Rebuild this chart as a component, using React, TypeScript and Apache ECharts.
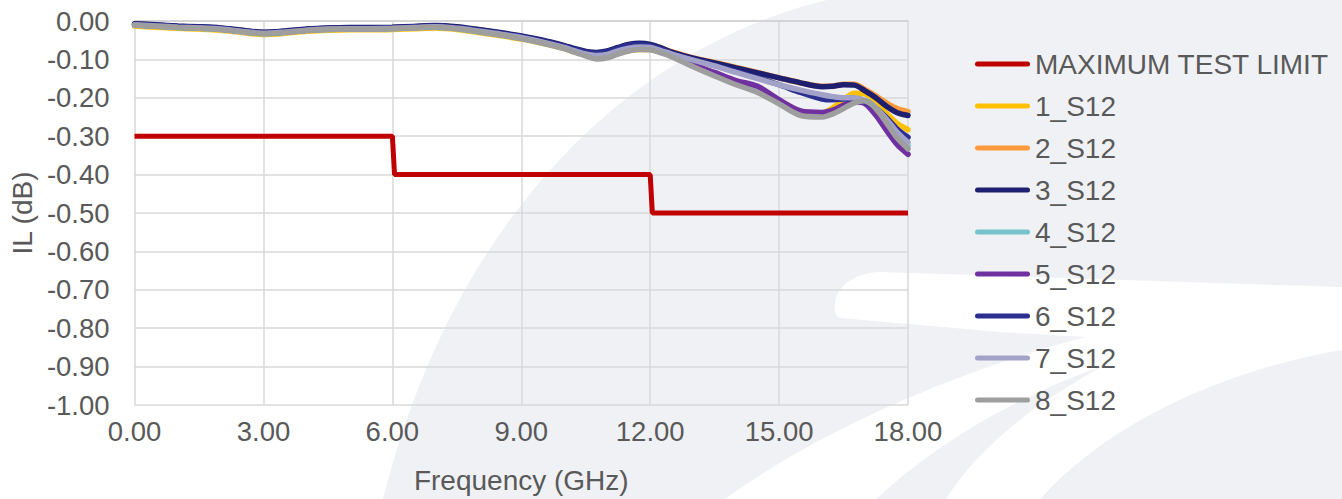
import React, { useEffect, useRef } from "react";
import * as echarts from "echarts";

const FONT = '"Liberation Sans", Arial, sans-serif';
const TEXT_COLOR = "#595959";

const FREQ = [
  0, 0.5, 1, 1.5, 2, 2.5, 3, 3.5, 4, 4.5, 5, 5.5, 6, 6.5, 7, 7.5, 8, 8.5, 9, 9.5,
  10, 10.25, 10.5, 10.75, 11, 11.25, 11.5, 11.75, 12, 12.25, 12.5,
  13, 13.5, 14, 14.5, 15, 15.5, 16,
  16.25, 16.5, 16.75, 17, 17.25, 17.5, 17.75, 18,
];

const LIMIT_FREQ = [0, 6, 6.05, 12, 12.05, 18];
const LIMIT_IL = [-0.3, -0.3, -0.4, -0.4, -0.5, -0.5];

const S1 = [
  -0.013, -0.016, -0.019, -0.021, -0.024, -0.030, -0.035, -0.032, -0.027, -0.024, -0.023, -0.023, -0.022, -0.020, -0.018, -0.022, -0.030, -0.038, -0.047, -0.058,
  -0.072, -0.081, -0.089, -0.096, -0.093, -0.084, -0.077, -0.074, -0.074, -0.082, -0.091,
  -0.116, -0.141, -0.163, -0.183, -0.213, -0.241, -0.240,
  -0.226, -0.205, -0.188, -0.190, -0.210, -0.240, -0.267, -0.283,
];
const S2 = [
  -0.008, -0.011, -0.014, -0.016, -0.019, -0.025, -0.030, -0.027, -0.022, -0.019, -0.018, -0.018, -0.017, -0.015, -0.013, -0.016, -0.023, -0.031, -0.040, -0.051,
  -0.065, -0.073, -0.080, -0.083, -0.079, -0.070, -0.062, -0.059, -0.062, -0.070, -0.080,
  -0.096, -0.108, -0.121, -0.134, -0.148, -0.161, -0.170,
  -0.169, -0.165, -0.165, -0.178, -0.195, -0.213, -0.228, -0.236,
];
const S3 = [
  -0.007, -0.010, -0.013, -0.015, -0.018, -0.024, -0.029, -0.026, -0.021, -0.018, -0.017, -0.017, -0.016, -0.014, -0.012, -0.015, -0.022, -0.030, -0.039, -0.050,
  -0.064, -0.072, -0.079, -0.082, -0.078, -0.069, -0.061, -0.058, -0.061, -0.070, -0.081,
  -0.097, -0.109, -0.122, -0.135, -0.148, -0.161, -0.171,
  -0.170, -0.166, -0.167, -0.182, -0.200, -0.222, -0.239, -0.246,
];
const S4 = [
  -0.011, -0.014, -0.017, -0.019, -0.022, -0.028, -0.033, -0.030, -0.025, -0.022, -0.021, -0.021, -0.020, -0.018, -0.016, -0.020, -0.028, -0.036, -0.045, -0.057,
  -0.071, -0.080, -0.088, -0.094, -0.091, -0.082, -0.075, -0.072, -0.073, -0.081, -0.090,
  -0.116, -0.140, -0.163, -0.180, -0.210, -0.238, -0.242,
  -0.235, -0.222, -0.208, -0.207, -0.226, -0.262, -0.300, -0.325,
];
const S5 = [
  -0.010, -0.013, -0.016, -0.018, -0.021, -0.027, -0.032, -0.029, -0.024, -0.021, -0.020, -0.020, -0.019, -0.017, -0.015, -0.019, -0.027, -0.035, -0.044, -0.056,
  -0.070, -0.079, -0.087, -0.092, -0.089, -0.080, -0.073, -0.070, -0.071, -0.079, -0.090,
  -0.114, -0.134, -0.155, -0.170, -0.205, -0.234, -0.238,
  -0.232, -0.219, -0.210, -0.215, -0.245, -0.285, -0.322, -0.347,
];
const S6 = [
  -0.008, -0.011, -0.014, -0.016, -0.019, -0.025, -0.030, -0.027, -0.022, -0.019, -0.018, -0.018, -0.017, -0.015, -0.013, -0.017, -0.024, -0.032, -0.041, -0.052,
  -0.066, -0.074, -0.081, -0.084, -0.080, -0.071, -0.063, -0.061, -0.064, -0.073, -0.084,
  -0.101, -0.116, -0.132, -0.148, -0.166, -0.186, -0.203,
  -0.205, -0.203, -0.202, -0.210, -0.227, -0.252, -0.282, -0.303,
];
const S7 = [
  -0.010, -0.013, -0.016, -0.018, -0.021, -0.027, -0.032, -0.029, -0.024, -0.021, -0.020, -0.020, -0.019, -0.017, -0.015, -0.019, -0.026, -0.034, -0.043, -0.055,
  -0.069, -0.078, -0.086, -0.090, -0.087, -0.078, -0.071, -0.068, -0.069, -0.077, -0.086,
  -0.102, -0.117, -0.134, -0.150, -0.166, -0.180, -0.192,
  -0.197, -0.200, -0.200, -0.207, -0.226, -0.256, -0.290, -0.316,
];
const S8 = [
  -0.011, -0.014, -0.017, -0.019, -0.022, -0.028, -0.033, -0.030, -0.025, -0.022, -0.021, -0.021, -0.020, -0.018, -0.016, -0.020, -0.028, -0.036, -0.046, -0.058,
  -0.072, -0.082, -0.091, -0.099, -0.096, -0.086, -0.078, -0.074, -0.075, -0.083, -0.093,
  -0.119, -0.143, -0.166, -0.186, -0.216, -0.246, -0.250,
  -0.242, -0.228, -0.213, -0.208, -0.228, -0.265, -0.305, -0.333,
];

const LIMIT_NAME = "MAXIMUM TEST LIMIT";
const SERIES_NAMES = ["1_S12", "2_S12", "3_S12", "4_S12", "5_S12", "6_S12", "7_S12", "8_S12"];
const SERIES_VALUES = [S1, S2, S3, S4, S5, S6, S7, S8];
const SERIES_COLORS = ["#ffc000", "#ff9a3c", "#1f1f70", "#76c3ca", "#7030a0", "#2b2f8f", "#a2a2c8", "#9e9e9e"];
const LIMIT_COLOR = "#c00000";

const BG_GRAY = "M 827 0 C 620 50 450 230 383 499 L 1342 499 L 1342 0 Z";
const BG_WHITE =
  "M 835 305 C 835 290 850 273 880 272 L 1342 287 L 1342 350 C 1250 365 1120 410 1040 499 L 725 499 C 820 430 960 370 1085 337 L 1000 332 L 840 318 C 834 315 834 310 835 305 Z";
const BG_WEDGE = "M 876 499 C 940 440 1020 395 1105 365 C 1040 400 980 445 946 499 Z";
const LEGEND_ICON = "path://M2.5,0 L52.5,0 A2.5,2.5 0 0 1 52.5,5 L2.5,5 A2.5,2.5 0 0 1 2.5,0 Z";

let shapesRegistered = false;
function registerShapes() {
  if (shapesRegistered) return;
  echarts.graphic.registerShape("bgGray", echarts.graphic.extendPath(BG_GRAY, {}) as any);
  echarts.graphic.registerShape("bgWhite", echarts.graphic.extendPath(BG_WHITE, {}) as any);
  echarts.graphic.registerShape("bgWedge", echarts.graphic.extendPath(BG_WEDGE, {}) as any);
  shapesRegistered = true;
}

export default function App() {
  const ref = useRef<HTMLDivElement>(null);

  useEffect(() => {
    if (!ref.current) return;
    registerShapes();
    const chart = echarts.init(ref.current, null, { renderer: "svg" });

    const limitData = LIMIT_FREQ.map((f, i) => [f, LIMIT_IL[i]]);
    const series: any[] = [
      {
        name: LIMIT_NAME,
        type: "line",
        data: limitData,
        symbol: "none",
        showSymbol: false,
        lineStyle: { color: LIMIT_COLOR, width: 5 },
        itemStyle: { color: LIMIT_COLOR },
        z: 3,
      },
      ...SERIES_NAMES.map((name, k) => ({
        name,
        type: "line",
        data: FREQ.map((f, i) => [f, SERIES_VALUES[k][i]]),
        symbol: "none",
        showSymbol: false,
        smooth: 0.3,
        lineStyle: { color: SERIES_COLORS[k], width: 5.5, cap: "round" },
        itemStyle: { color: SERIES_COLORS[k] },
        z: 4 + k,
      })),
    ];

    chart.setOption({
      animation: false,
      backgroundColor: "#ffffff",
      textStyle: { fontFamily: FONT },
      graphic: [
        { type: "bgGray", x: 0, y: 0, z: -10, silent: true, style: { fill: "#f0f1f5" } },
        { type: "bgWhite", x: 0, y: 0, z: -9, silent: true, style: { fill: "#ffffff" } },
        { type: "bgWedge", x: 0, y: 0, z: -8, silent: true, style: { fill: "#f0f1f5" } },
      ],
      grid: { left: 132, right: 434, top: 21, bottom: 92, containLabel: false },
      legend: {
        orient: "vertical",
        left: 975,
        top: 50,
        padding: 0,
        itemWidth: 55,
        itemHeight: 5,
        itemGap: 14,
        icon: LEGEND_ICON,
        data: [LIMIT_NAME, ...SERIES_NAMES],
        textStyle: { fontSize: 28, color: TEXT_COLOR, fontFamily: FONT },
      },
      xAxis: {
        type: "value",
        min: 0,
        max: 18,
        interval: 3,
        name: "Frequency (GHz)",
        nameLocation: "middle",
        nameGap: 61,
        nameTextStyle: { fontSize: 28, color: TEXT_COLOR, fontFamily: FONT },
        axisLine: { show: true, lineStyle: { color: "#d0d0d0", width: 1.5 } },
        axisTick: { show: false },
        axisLabel: {
          margin: 12,
          fontSize: 27.5,
          color: TEXT_COLOR,
          fontFamily: FONT,
          formatter: (v: number) => v.toFixed(2),
        },
        splitLine: { show: true, lineStyle: { color: "#d9d9d9", width: 1.5 } },
      },
      yAxis: {
        type: "value",
        min: -1,
        max: 0,
        interval: 0.1,
        name: "IL (dB)",
        nameLocation: "middle",
        nameGap: 96,
        nameRotate: 90,
        nameTextStyle: { fontSize: 28, color: TEXT_COLOR, fontFamily: FONT },
        axisLine: { show: false },
        axisTick: { show: false },
        axisLabel: {
          margin: 25,
          fontSize: 27.5,
          color: TEXT_COLOR,
          fontFamily: FONT,
          formatter: (v: number) => v.toFixed(2),
        },
        splitLine: { show: true, lineStyle: { color: "#d9d9d9", width: 1.5 } },
      },
      series,
    });

    return () => chart.dispose();
  }, []);

  return (
    <div
      ref={ref}
      style={{ position: "fixed", left: 0, top: 0, width: 1342, height: 499, background: "#ffffff" }}
    />
  );
}
